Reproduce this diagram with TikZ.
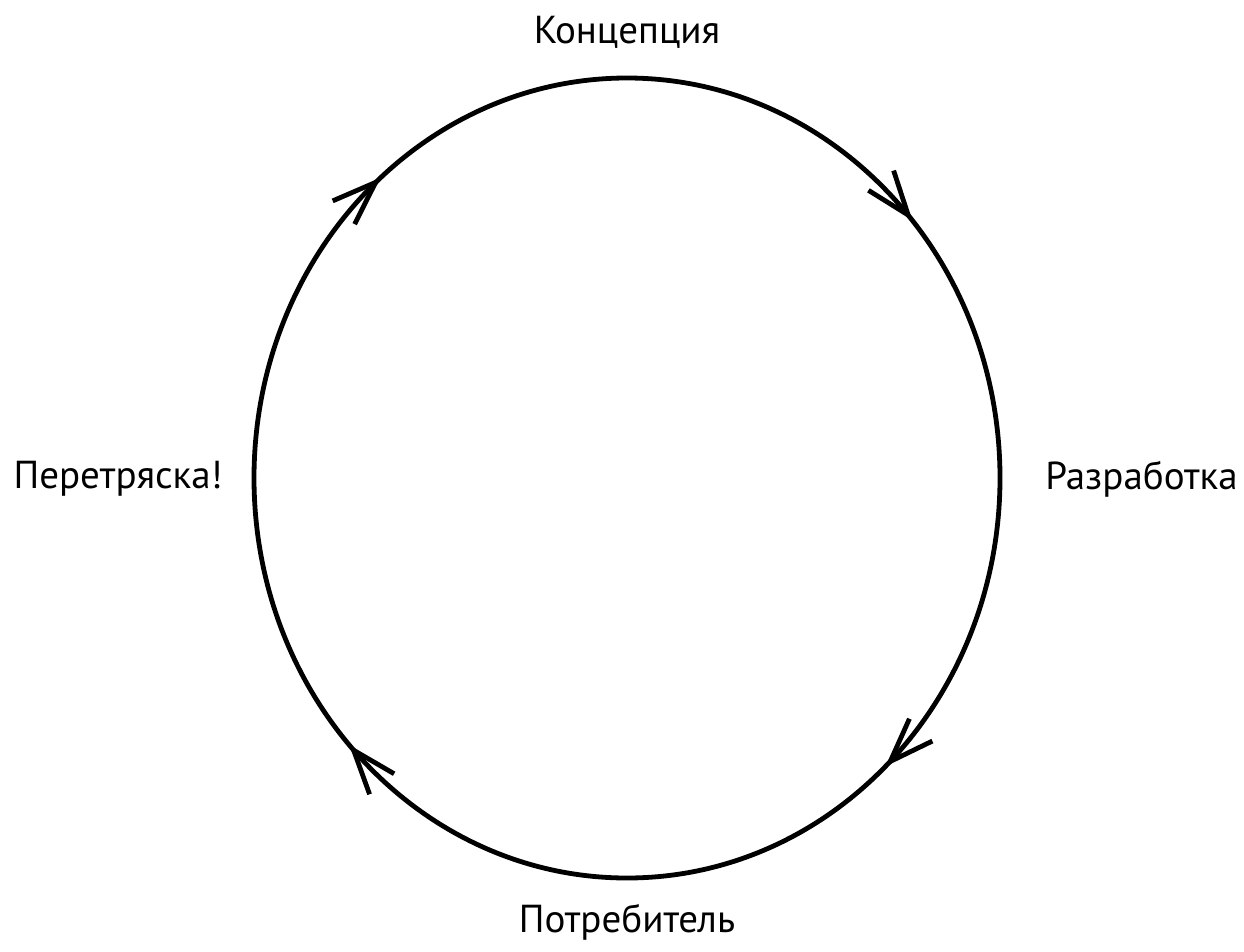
\documentclass[tikz,border=0pt]{standalone}
\usepackage{fontspec}
\setmainfont{PT Sans}
\usetikzlibrary{arrows.meta, decorations.markings}

\begin{document}
\begin{tikzpicture}[
        x=1pt,
        y=-1pt,
        line width=4.8pt,
        >={Straight Barb[length=44pt,width=32pt]},
        every node/.style={font=\fontsize{39}{47}\selectfont, inner sep=0pt},
        cycle/.style={decoration={markings,
            mark=at position 0.131 with {\arrow{>}},
            mark=at position 0.381 with {\arrow{>}},
            mark=at position 0.638 with {\arrow{>}},
            mark=at position 0.886 with {\arrow{>}}}, postaction=decorate}
    ]
    \useasboundingbox (0,0) rectangle (1244,952);
    \coordinate (c) at (627,478);

    \node (concept) at (627,32) {Концепция};
    \node[anchor=east] (shake) at (225,479) {Перетряска!};
    \node[anchor=west] (dev) at (1043,479) {Разработка};
    \node (user) at (627,922) {Потребитель};

    \draw[cycle] (c) ellipse [x radius=373, y radius=400];
\end{tikzpicture}
\end{document}
